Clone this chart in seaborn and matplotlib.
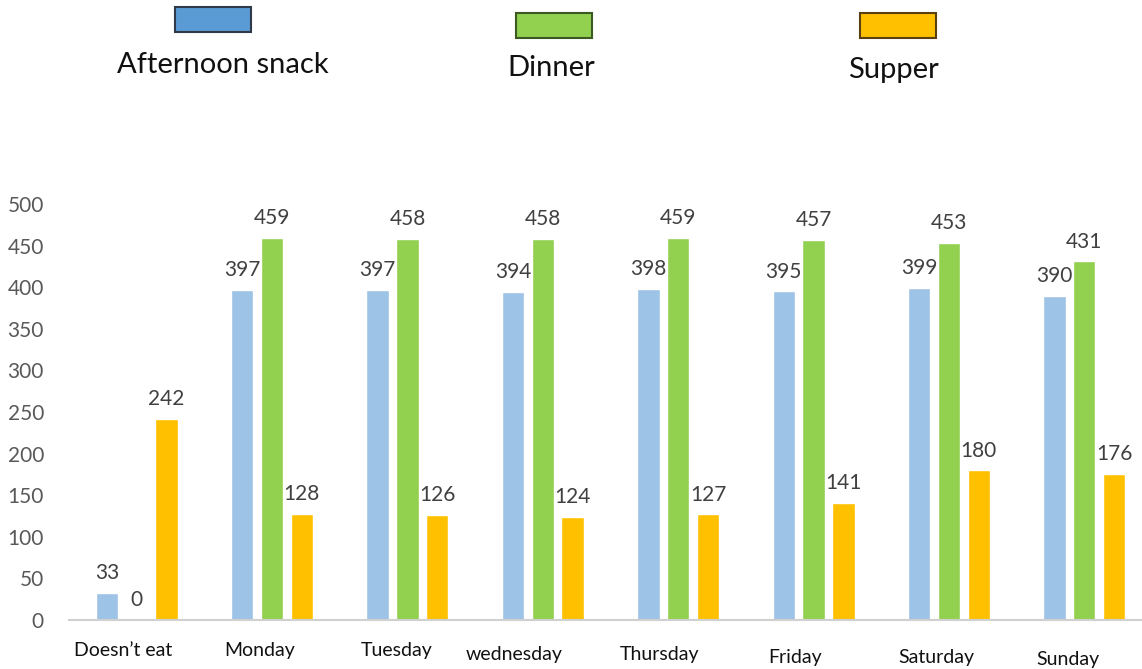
import matplotlib
matplotlib.use("Agg")
import matplotlib.pyplot as plt
import matplotlib.transforms as mtransforms
from matplotlib.patches import Rectangle
import seaborn as sns
import pandas as pd

categories = ["Doesn\u2019t eat", "Monday", "Tuesday", "wednesday", "Thursday",
              "Friday", "Saturday", "Sunday"]
series_names = ["Afternoon snack", "Dinner", "Supper"]
afternoon_snack = [33, 397, 397, 394, 398, 395, 399, 390]
dinner = [0, 459, 458, 458, 459, 457, 453, 431]
supper = [242, 128, 126, 124, 127, 141, 180, 176]
y_ticks = [0, 50, 100, 150, 200, 250, 300, 350, 400, 450, 500]

rows = []
for name, vals in zip(series_names, [afternoon_snack, dinner, supper]):
    for c, v in zip(categories, vals):
        rows.append({"day": c, "meal": name, "count": v})
df = pd.DataFrame(rows)

sns.set_theme(style="white")
plt.rcParams["font.family"] = ["Lato", "DejaVu Sans"]

bar_colors = ["#9DC3E6", "#92D050", "#FFC000"]
legend_colors = ["#5B9BD5", "#92D050", "#FFC000"]
legend_edges = ["#2F3A48", "#3B5A22", "#5A4010"]

fig = plt.figure(figsize=(11.42, 6.69), dpi=100)
ax = fig.add_axes([69 / 1142, 49 / 669, (1152 - 69) / 1142, (620 - 204) / 669])

sns.barplot(data=df, x="day", y="count", hue="meal", order=categories,
            hue_order=series_names, palette=bar_colors, width=0.66, gap=0.25,
            saturation=1, legend=False, ax=ax, errorbar=None)

for cont in ax.containers:
    ax.bar_label(cont, labels=[f"{int(v)}" for v in cont.datavalues],
                 padding=7, fontsize=15, color="#404040")

ax.set_ylim(0, 500)
ax.set_xlim(-0.5, 7.5)
ax.set_yticks(y_ticks)
ax.set_yticklabels([str(t) for t in y_ticks], fontsize=15, color="#595959")
ax.tick_params(axis="y", length=0, pad=18)
ax.tick_params(axis="x", length=0, pad=16, labelsize=14, labelcolor="#111111")
ax.set_xlabel("")
ax.set_ylabel("")
for s in ["top", "right", "left"]:
    ax.spines[s].set_visible(False)
ax.spines["bottom"].set_color("#D0D0D0")
ax.spines["bottom"].set_linewidth(1.5)

# slight irregular placement of the category labels, as in the reference
label_dx = [-14, -12, -11, -29, -19, -18, -13, -16]
label_dy = [0, 0, 0, -4, -4, -7, -7, -9]
for lab, dx, dy in zip(ax.get_xticklabels(), label_dx, label_dy):
    lab.set_transform(lab.get_transform() +
                      mtransforms.ScaledTranslation(dx / 100, dy / 100,
                                                    fig.dpi_scale_trans))

# legend at top: boxes with labels below
leg_boxes = [(175, 7), (516, 13), (860, 13)]
leg_text = [(223, 65), (551, 68), (893, 70)]
W, H = 1142, 669
for (bx, by), (tx, ty), name, fc, ec in zip(leg_boxes, leg_text, series_names,
                                            legend_colors, legend_edges):
    fig.add_artist(Rectangle((bx / W, 1 - (by + 25) / H), 76 / W, 25 / H,
                             facecolor=fc, edgecolor=ec, linewidth=1.5,
                             transform=fig.transFigure))
    fig.text(tx / W, 1 - ty / H, name, ha="center", va="center",
             fontsize=21, color="#111111")

fig.savefig("out.png", dpi=100)
